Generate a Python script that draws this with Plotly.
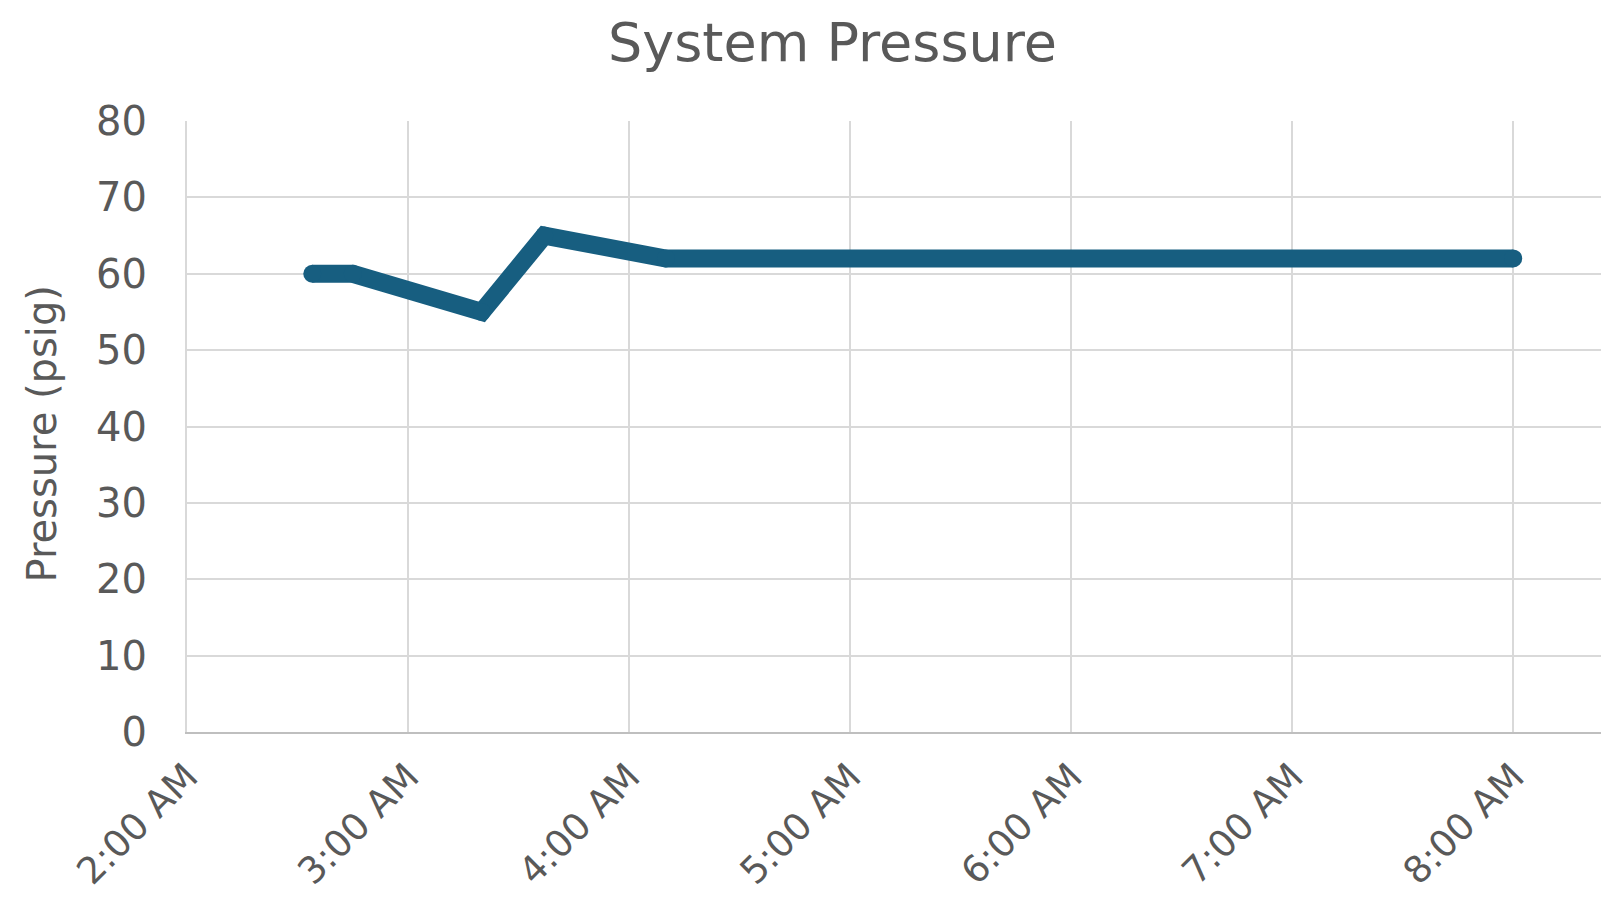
import plotly.graph_objects as go

times = ["2024-01-01 02:34", "2024-01-01 02:45", "2024-01-01 03:20",
         "2024-01-01 03:37", "2024-01-01 04:10", "2024-01-01 08:00"]
pressure = [60, 60, 55, 65, 62, 62]

tick_vals = ["2024-01-01 02:00", "2024-01-01 03:00", "2024-01-01 04:00",
             "2024-01-01 05:00", "2024-01-01 06:00", "2024-01-01 07:00",
             "2024-01-01 08:00"]
tick_text = ["2:00 AM", "3:00 AM", "4:00 AM", "5:00 AM", "6:00 AM", "7:00 AM", "8:00 AM"]
y_ticks = [0, 10, 20, 30, 40, 50, 60, 70, 80]

font_family = "DejaVu Sans"
text_color = "#595959"
line_color = "#175E80"

fig = go.Figure()
fig.add_trace(go.Scatter(
    x=times, y=pressure, mode="lines+markers",
    line=dict(color=line_color, width=18, shape="linear"),
    marker=dict(color=line_color, size=18, line=dict(width=0)),
    showlegend=False,
))

# page body adds an 8px offset; size the figure so the plot lands where the reference has it
fig.update_layout(
    width=1601, height=896,
    paper_bgcolor="white", plot_bgcolor="white",
    margin=dict(l=179, r=0, t=113, b=172),
    title=dict(text="System Pressure", x=0.515, xanchor="center", y=0.962, yanchor="middle",
               font=dict(family=font_family, size=54, color=text_color)),
    font=dict(family=font_family, color=text_color),
)
fig.add_annotation(
    text="Pressure (psig)", textangle=-90,
    xref="paper", yref="paper", x=0, y=0.5, xanchor="center", yanchor="middle",
    xshift=-146, yshift=-8, showarrow=False,
    font=dict(family=font_family, size=40, color=text_color),
)
fig.update_xaxes(
    type="date",
    range=["2024-01-01 02:00", "2024-01-01 08:26"],
    tickvals=tick_vals, ticktext=tick_text,
    tickangle=-45,
    tickfont=dict(size=37, color=text_color),
    showgrid=True, gridcolor="#d9d9d9", gridwidth=2,
    showline=True, linecolor="#bfbfbf", linewidth=2,
    ticks="outside", ticklen=6, tickcolor="rgba(0,0,0,0)",
    zeroline=False, automargin=False,
)
fig.update_yaxes(
    range=[0, 80],
    tickvals=y_ticks,
    tickfont=dict(size=40, color=text_color),
    showgrid=True, gridcolor="#d9d9d9", gridwidth=2,
    showline=True, linecolor="#d9d9d9", linewidth=2,
    ticks="outside", ticklen=30, tickcolor="rgba(0,0,0,0)",
    zeroline=False, automargin=False,
)

fig.write_html("out.html")
